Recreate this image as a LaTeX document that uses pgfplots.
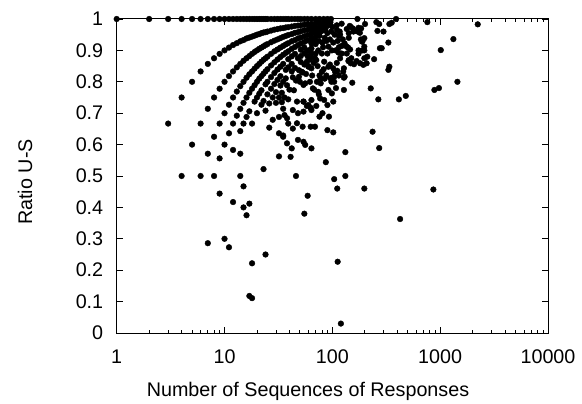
\documentclass[border=0pt]{standalone}
\usepackage{pgfplots}
\pgfplotsset{compat=1.18}
\usepackage{fontspec}
\setmainfont{Liberation Sans}
\begin{document}
\begin{tikzpicture}
\path[use as bounding box] (0,0) rectangle (582bp,404bp);
\begin{axis}[
  at={(116.7bp,71bp)}, anchor=south west,
  scale only axis, width=431.3bp, height=314bp,
  xmode=log, xmin=1, xmax=10000, ymin=0, ymax=1,
  xtick={1,10,100,1000,10000}, xticklabels={1,10,100,1000,10000},
  ytick={0,0.1,0.2,0.3,0.4,0.5,0.6,0.7,0.8,0.9,1},
  yticklabels={0,0.1,0.2,0.3,0.4,0.5,0.6,0.7,0.8,0.9,1},
  tick align=inside, tick pos=both,
  major tick length=6bp, minor tick length=3.5bp,
  every tick/.style={black, line width=0.8bp},
  axis line style={black, line width=1bp},
  tick label style={font=\fontsize{19.8}{24}\selectfont},
  label style={font=\fontsize{19.8}{24}\selectfont},
  xticklabel style={yshift=-13bp},
  yticklabel style={xshift=-10bp},
  /pgf/number format/assume math mode=true,
  xlabel={Number of Sequences of Responses},
  ylabel={Ratio U-S},
  xlabel style={at={(rel axis cs:0.4436,-0.2038)}, anchor=base},
  ylabel style={at={(rel axis cs:-0.2126,0.481)}, anchor=center},
  clip=false,
  dots/.style={only marks, mark=*, mark size=2.85bp, color=black, mark options={fill=black, draw=black}},
]
% top row, ratio 1
\addplot[dots] coordinates {(1,1)(2,1)(3,1)(4,1)(5,1)(6,1)(7,1)(8,1)(9,1)(10,1)(11,1)(12,1)(13,1)(14,1)(15,1)(16,1)(17,1)(18,1)(19,1)(20,1)(21,1)(22,1)(23,1)(24,1)(25,1)(27,1)(29,1)(31,1)(33,1)(35,1)(37,1)(39,1)(42,1)(45,1)(48,1)(51,1)(55,1)(59,1)(64,1)(70,1)(76,1)(83,1)(90,1)(97,1)(171,1)(390,1)};
% arc k=1
\addplot[dots] coordinates {(3,0.667)(4,0.75)(5,0.8)(6,0.833)(7,0.857)(8,0.875)(9,0.889)(10,0.9)(11,0.909)(12,0.917)(13,0.923)(14,0.929)(15,0.933)(16,0.938)(17,0.941)(18,0.944)(19,0.947)(20,0.95)(21,0.952)(22,0.955)(23,0.957)(24,0.958)(25,0.96)(27,0.963)(29,0.966)(31,0.968)(33,0.97)(35,0.971)(37,0.973)(39,0.974)(42,0.976)(45,0.978)(48,0.979)(51,0.98)(55,0.982)(59,0.983)(64,0.984)(70,0.986)(76,0.987)(83,0.988)(90,0.989)};
% arc k=2
\addplot[dots] coordinates {(4,0.5)(5,0.6)(6,0.667)(7,0.714)(8,0.75)(9,0.778)(10,0.8)(11,0.818)(12,0.833)(13,0.846)(14,0.857)(15,0.867)(16,0.875)(17,0.882)(18,0.889)(19,0.895)(20,0.9)(21,0.905)(22,0.909)(23,0.913)(24,0.917)(25,0.92)(27,0.926)(29,0.931)(31,0.935)(33,0.939)(35,0.943)(37,0.946)(39,0.949)(42,0.952)(45,0.956)(48,0.958)(51,0.961)(55,0.964)(59,0.966)(64,0.969)(70,0.971)(76,0.974)(83,0.976)(90,0.978)};
% arc k=3
\addplot[dots] coordinates {(6,0.5)(7,0.571)(8,0.625)(9,0.667)(10,0.7)(11,0.727)(12,0.75)(13,0.769)(14,0.786)(15,0.8)(16,0.813)(17,0.824)(18,0.833)(19,0.842)(20,0.85)(21,0.857)(22,0.864)(23,0.87)(24,0.875)(25,0.88)(27,0.889)(29,0.897)(31,0.903)(33,0.909)(35,0.914)(37,0.919)(39,0.923)(42,0.929)(45,0.933)(48,0.938)(51,0.941)(55,0.945)(59,0.949)(64,0.953)(70,0.957)(76,0.961)(83,0.964)};
% arc k=4
\addplot[dots] coordinates {(8,0.5)(9,0.556)(10,0.6)(11,0.636)(12,0.667)(13,0.692)(14,0.714)(15,0.733)(16,0.75)(17,0.765)(18,0.778)(19,0.789)(20,0.8)(21,0.81)(22,0.818)(23,0.826)(24,0.833)(25,0.84)(27,0.852)(29,0.862)(31,0.871)(33,0.879)(35,0.886)(37,0.892)(39,0.897)(42,0.905)(45,0.911)(48,0.917)(51,0.922)(55,0.927)(59,0.932)(64,0.938)(70,0.943)(76,0.947)};
% arc k=5
\addplot[dots] coordinates {(9,0.444)(12,0.583)(14,0.643)(15,0.667)(16,0.688)(17,0.706)(19,0.737)(20,0.75)(21,0.762)(22,0.773)(24,0.792)(25,0.8)(27,0.815)(29,0.828)(31,0.839)(33,0.848)(35,0.857)(39,0.872)(42,0.881)(45,0.889)(51,0.902)(55,0.909)(64,0.922)(70,0.929)};
% arc k=6
\addplot[dots] coordinates {(14,0.571)(18,0.667)(20,0.7)(22,0.727)(23,0.739)(25,0.76)(27,0.778)(29,0.793)(31,0.806)(33,0.818)(37,0.838)(39,0.846)(42,0.857)(48,0.875)(51,0.882)(55,0.891)(59,0.898)(64,0.906)};
% arc k=7
\addplot[dots] coordinates {(10,0.3)(12,0.417)(14,0.5)(24,0.708)(26,0.731)(28,0.75)(30,0.767)(33,0.788)(35,0.8)(37,0.811)(42,0.833)(45,0.844)(51,0.863)(59,0.881)};
% arc k=8
\addplot[dots] coordinates {(15,0.467)(30,0.733)(32,0.75)(34,0.765)(38,0.789)(43,0.814)(49,0.837)(55,0.855)(62,0.871)};
% arc k=9
\addplot[dots] coordinates {(15,0.4)(26,0.654)(28,0.679)(34,0.735)(36,0.75)(40,0.775)(46,0.804)(53,0.83)(60,0.85)};
% arc k=10
\addplot[dots] coordinates {(16,0.375)(17,0.412)(32,0.688)(35,0.714)(39,0.744)(44,0.773)(50,0.8)(57,0.825)};
% scattered points
\addplot[dots] coordinates {(7,0.286)(11,0.273)(18,0.222)(17,0.118)(18,0.111)(24,0.25)(23,0.522)(32,0.5625)(41,0.561)(46,0.5)(35,0.629)(39,0.667)(43,0.651)(47,0.737)(54,0.737)(58,0.723)(63,0.717)(87,0.544)(132,0.576)(104,0.49)(132,0.5)(111,0.46)(198,0.46)(865,0.457)(59,0.437)(55,0.38)(425,0.363)(112,0.227)(120,0.03)(90,0.646)(102,0.639)(236,0.641)(272,0.589)(267,0.744)(414,0.744)(480,0.755)(884,0.774)(974,0.78)(1445,0.8)(1013,0.901)(1326,0.936)(2230,0.983)(760,0.99)(201,0.984)(256,0.99)(272,0.984)(338,0.984)(355,0.988)(262,0.962)(298,0.96)(331,0.925)(276,0.907)(287,0.907)(244,0.872)(211,0.88)(208,0.859)(331,0.838)(338,0.848)(227,0.779)(153,0.797)(128,0.813)(92,0.774)(100,0.813)(104,0.816)(128,0.843)(142,0.94)(142,0.869)(150,0.875)(190,0.9)(198,0.9)(126,0.917)(140,0.909)(185,0.97)(172,0.96)(148,0.975)(136,0.968)(175,0.972)(175,0.89)(198,0.939)(188,0.928)};
% dense cluster
\addplot[dots] coordinates {(74,0.99)(96,0.99)(110,0.98)(145,0.978)(155,0.97)(142,0.955)(157,0.96)(171,0.963)(180,0.956)(117,0.96)(115,0.946)(130,0.922)(136,0.912)(146,0.903)(184,0.935)(191,0.93)(122,0.914)(81,0.925)(92,0.912)(99,0.9)(90,0.89)(74,0.9)(80,0.89)(114,0.893)(122,0.89)(136,0.89)(141,0.866)(148,0.859)(159,0.856)(168,0.866)(198,0.875)(64,0.89)(69,0.875)(71,0.869)(58,0.864)(60,0.848)(64,0.843)(84,0.864)(92,0.848)(102,0.843)(106,0.832)(111,0.835)(80,0.832)(78,0.811)(52,0.832)(49,0.816)(96,0.811)(104,0.8)(126,0.832)(130,0.816)(181,0.859)(194,0.854)(175,0.9)(198,0.912)(54,0.79)(56,0.795)(66,0.779)(74,0.768)(78,0.795)(77,0.747)(84,0.742)(64,0.742)(54,0.737)(60,0.726)(102,0.737)(99,0.763)(128,0.774)(90,0.726)(43,0.71)(48,0.7)(54,0.705)(64,0.71)(71,0.723)(76,0.689)(81,0.7)(93,0.689)(63,0.657)(69,0.657)(47,0.668)(53,0.657)(36,0.694)(38,0.684)(48,0.615)(54,0.609)(56,0.599)(64,0.588)(38,0.604)(42,0.588)(32,0.636)(35,0.625)(62,0.97)(66,0.96)(68,0.98)(70,0.92)(72,0.95)(75,0.93)(78,0.96)(80,0.975)(82,0.91)(85,0.94)(86,0.965)(88,0.93)(90,0.955)(92,0.985)(95,0.935)(98,0.96)(100,0.975)(102,0.925)(105,0.95)(107,0.9)(110,0.965)(112,0.93)(115,0.91)(118,0.95)(122,0.985)(125,0.935)(60,0.9)(63,0.88)(67,0.86)(70,0.89)(73,0.85)(76,0.82)(83,0.84)(88,0.82)(95,0.855)(98,0.8)(110,0.86)(115,0.82)(118,0.875)(65,0.82)(72,0.8)(85,0.81)(62,0.8)(68,0.775)(75,0.76)(108,0.78)};
\end{axis}
\end{tikzpicture}
\end{document}
